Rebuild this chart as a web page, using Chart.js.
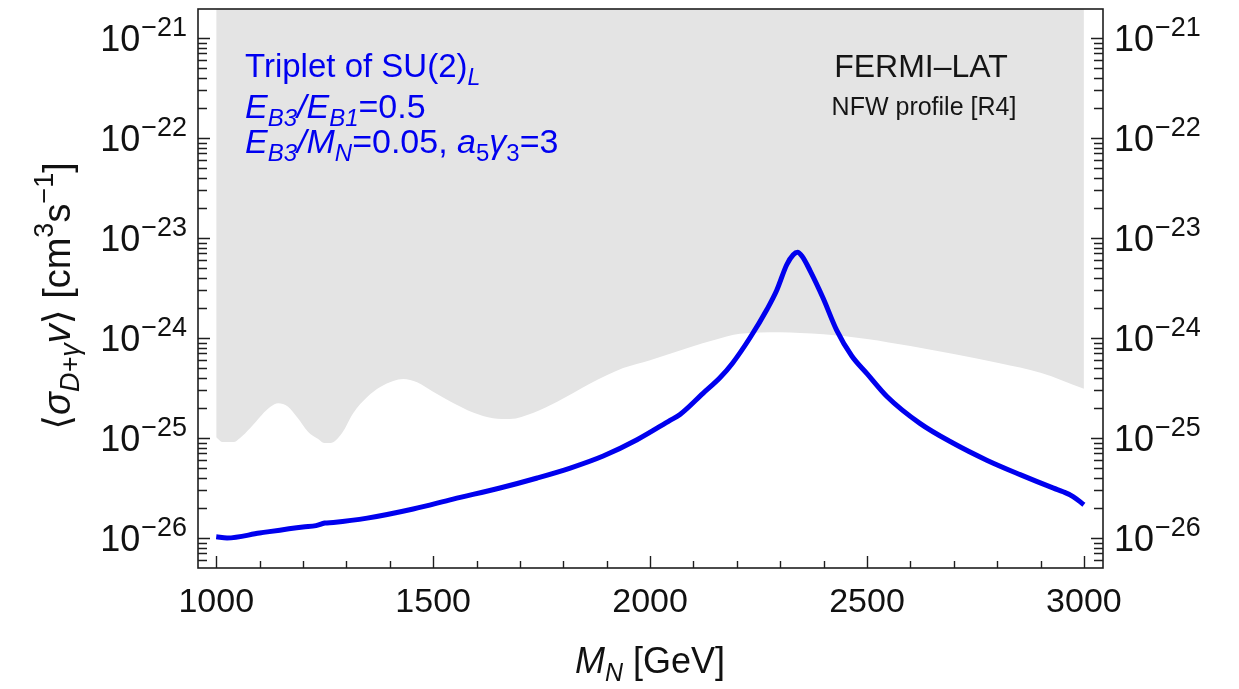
<!DOCTYPE html>
<html>
<head>
<meta charset="utf-8">
<script src="https://cdn.jsdelivr.net/npm/chart.js@4/dist/chart.umd.min.js"></script>
<style>
  html, body { margin: 0; padding: 0; background: #ffffff; }
  #wrap { width: 1239px; height: 689px; }
</style>
</head>
<body>
<div id="wrap"><canvas id="c" width="1239" height="689"></canvas></div>
<script>
// ---- data ----
const massBlue = [1000, 1025, 1100, 1200, 1230, 1250, 1270, 1348, 1454, 1546, 1654, 1740, 1816, 1892, 1970, 2046, 2069, 2122, 2161, 2190, 2230, 2270, 2292, 2315, 2330, 2340, 2350, 2369, 2399, 2430, 2465, 2500, 2546, 2622, 2698, 2776, 2853, 2930, 2952, 2975, 3000];
const sigmaBlue = [1.03e-26, 1.0e-26, 1.12e-26, 1.29e-26, 1.33e-26, 1.41e-26, 1.43e-26, 1.58e-26, 1.95e-26, 2.45e-26, 3.16e-26, 3.98e-26, 5.0e-26, 6.6e-26, 9.6e-26, 1.5e-25, 1.72e-25, 2.8e-25, 4.0e-25, 5.6e-25, 1.0e-24, 1.95e-24, 3.0e-24, 5.4e-24, 6.8e-24, 7.2e-24, 6.6e-24, 4.7e-24, 2.5e-24, 1.2e-24, 6.6e-25, 4.4e-25, 2.6e-25, 1.4e-25, 8.9e-26, 6.0e-26, 4.3e-26, 3.15e-26, 2.9e-26, 2.6e-26, 2.15e-26];

const massFermi = [1000, 1015, 1040, 1055, 1078, 1105, 1125, 1143, 1165, 1187, 1212, 1235, 1250, 1263, 1290, 1316, 1348, 1378, 1408, 1431, 1463, 1500, 1546, 1592, 1638, 1677, 1730, 1786, 1862, 1938, 2000, 2092, 2150, 2207, 2300, 2346, 2400, 2500, 2600, 2700, 2806, 2900, 3000];
const limitFermi = [1.02e-25, 9.1e-26, 9.1e-26, 1.0e-25, 1.25e-25, 1.7e-25, 2.05e-25, 2.22e-25, 2.06e-25, 1.6e-25, 1.15e-25, 9.8e-26, 8.9e-26, 8.9e-26, 1.12e-25, 1.78e-25, 2.57e-25, 3.24e-25, 3.72e-25, 3.9e-25, 3.6e-25, 2.9e-25, 2.24e-25, 1.8e-25, 1.58e-25, 1.55e-25, 1.78e-25, 2.3e-25, 3.5e-25, 5.0e-25, 6.0e-25, 8.1e-25, 9.6e-25, 1.1e-24, 1.14e-24, 1.12e-24, 1.09e-24, 9.8e-25, 8.3e-25, 6.9e-25, 5.6e-25, 4.5e-25, 3.1e-25];

const xTickLabels = [1000, 1500, 2000, 2500, 3000];
const yTickExponents = [-21, -22, -23, -24, -25, -26];

const xMin = 958, xMax = 3044;
const yMin = Math.pow(10, -26.30), yMax = Math.pow(10, -20.71);

const FONT = '"Liberation Sans", Arial, "DejaVu Sans", sans-serif';

function fontStr(size, italic) {
  return (italic ? 'italic ' : '') + size + 'px ' + FONT;
}

function rich(ctx, x, y, segs, align) {
  let w = 0;
  for (const s of segs) {
    ctx.font = fontStr(s.size, s.it);
    w += ctx.measureText(s.t).width + (s.gap || 0);
  }
  let cx = align === 'right' ? x - w : (align === 'center' ? x - w / 2 : x);
  for (const s of segs) {
    ctx.font = fontStr(s.size, s.it);
    ctx.fillText(s.t, cx, y + (s.dy || 0));
    cx += ctx.measureText(s.t).width + (s.gap || 0);
  }
  return w;
}

const decorPlugin = {
  id: 'decor',
  afterDraw(chart) {
    const ctx = chart.ctx;
    const ca = chart.chartArea;
    const xs = chart.scales.x, ys = chart.scales.y;
    ctx.save();
    ctx.textBaseline = 'alphabetic';
    ctx.textAlign = 'left';

    // frame
    ctx.strokeStyle = '#1e1e1e';
    ctx.lineWidth = 1.6;
    ctx.strokeRect(ca.left, ca.top, ca.right - ca.left, ca.bottom - ca.top);

    // x ticks (inward, bottom)
    ctx.lineWidth = 1.4;
    ctx.beginPath();
    for (let m = 1000; m <= 3000; m += 100) {
      const px = Math.round(xs.getPixelForValue(m)) + 0.5;
      const len = (m % 500 === 0) ? 12 : 7;
      ctx.moveTo(px, ca.bottom);
      ctx.lineTo(px, ca.bottom - len);
    }
    // y ticks (inward, left and right)
    for (let e = -27; e <= -20; e++) {
      for (let k = 1; k <= 9; k++) {
        const v = k * Math.pow(10, e);
        if (v < yMin || v > yMax) continue;
        const py = Math.round(ys.getPixelForValue(v)) + 0.5;
        const len = (k === 1) ? 12 : 9;
        ctx.moveTo(ca.left, py); ctx.lineTo(ca.left + len, py);
        ctx.moveTo(ca.right, py); ctx.lineTo(ca.right - len, py);
      }
    }
    ctx.stroke();

    // x tick labels
    ctx.fillStyle = '#111';
    for (const m of xTickLabels) {
      const px = xs.getPixelForValue(m);
      rich(ctx, px, 612, [{t: String(m), size: 34}], 'center');
    }
    // y tick labels (both sides)
    for (const e of yTickExponents) {
      const py = ys.getPixelForValue(Math.pow(10, e));
      const segs = [
        {t: '10', size: 36, gap: 1},
        {t: '\u2212' + String(-e), size: 27, dy: -15}
      ];
      rich(ctx, 187, py + 13, segs, 'right');
      rich(ctx, 1114, py + 13, segs, 'left');
    }

    // x axis title
    rich(ctx, 650, 673, [
      {t: 'M', size: 36, it: true},
      {t: 'N', size: 25, it: true, dy: 8},
      {t: ' [GeV]', size: 36}
    ], 'center');

    // y axis title (rotated)
    ctx.save();
    ctx.translate(70, 296);
    ctx.rotate(-Math.PI / 2);
    rich(ctx, 0, 0, [
      {t: '\u27E8', size: 38},
      {t: '\u03C3', size: 38, it: true},
      {t: 'D+\u03B3', size: 27, it: true, dy: 9},
      {t: 'v', size: 38, it: true},
      {t: '\u27E9 [cm', size: 38},
      {t: '3', size: 27, dy: -17},
      {t: 's', size: 38},
      {t: '\u22121', size: 27, dy: -17},
      {t: ']', size: 38}
    ], 'center');
    ctx.restore();

    // annotations in blue
    ctx.fillStyle = '#0000f0';
    rich(ctx, 245, 77, [
      {t: 'Triplet of SU(2)', size: 33},
      {t: 'L', size: 23, it: true, dy: 8}
    ], 'left');
    rich(ctx, 245, 118, [
      {t: 'E', size: 34, it: true},
      {t: 'B3', size: 24, it: true, dy: 8},
      {t: '/E', size: 34, it: true},
      {t: 'B1', size: 24, it: true, dy: 8},
      {t: '=0.5', size: 34}
    ], 'left');
    rich(ctx, 245, 153, [
      {t: 'E', size: 34, it: true},
      {t: 'B3', size: 24, it: true, dy: 8},
      {t: '/M', size: 34, it: true},
      {t: 'N', size: 24, it: true, dy: 8},
      {t: '=0.05, ', size: 34},
      {t: 'a', size: 34, it: true},
      {t: '5', size: 24, dy: 8},
      {t: '\u03B3', size: 34, it: true},
      {t: '3', size: 24, dy: 8},
      {t: '=3', size: 34}
    ], 'left');

    // FERMI-LAT label
    ctx.fillStyle = '#151515';
    rich(ctx, 921, 77, [{t: 'FERMI\u2013LAT', size: 32}], 'center');
    rich(ctx, 924, 115, [{t: 'NFW profile [R4]', size: 25}], 'center');

    ctx.restore();
  }
};

const blueData = massBlue.map((m, i) => ({x: m, y: sigmaBlue[i]}));
const fermiData = massFermi.map((m, i) => ({x: m, y: limitFermi[i]}));

new Chart(document.getElementById('c'), {
  type: 'line',
  data: {
    datasets: [
      {
        label: 'Triplet',
        data: blueData,
        borderColor: '#0000ee',
        borderWidth: 5,
        pointRadius: 0,
        fill: false,
        cubicInterpolationMode: 'monotone',
        order: 0
      },
      {
        label: 'FERMI-LAT',
        data: fermiData,
        borderWidth: 0,
        borderColor: 'rgba(0,0,0,0)',
        backgroundColor: 'rgb(228,228,228)',
        pointRadius: 0,
        fill: 'end',
        cubicInterpolationMode: 'monotone',
        order: 1
      }
    ]
  },
  options: {
    responsive: false,
    devicePixelRatio: 1,
    animation: false,
    layout: { padding: { top: 9, left: 0, right: 0, bottom: 0 } },
    plugins: { legend: { display: false }, tooltip: { enabled: false } },
    scales: {
      x: {
        type: 'linear', min: xMin, max: xMax,
        ticks: { display: false }, grid: { display: false }, border: { display: false },
        afterFit(scale) { scale.height = 121; }
      },
      y: {
        type: 'logarithmic', position: 'left', min: yMin, max: yMax,
        ticks: { display: false }, grid: { display: false }, border: { display: false },
        afterFit(scale) { scale.width = 198; }
      },
      y2: {
        type: 'logarithmic', position: 'right', min: yMin, max: yMax,
        ticks: { display: false }, grid: { display: false }, border: { display: false },
        afterFit(scale) { scale.width = 136; }
      }
    }
  },
  plugins: [decorPlugin]
});
</script>
</body>
</html>
